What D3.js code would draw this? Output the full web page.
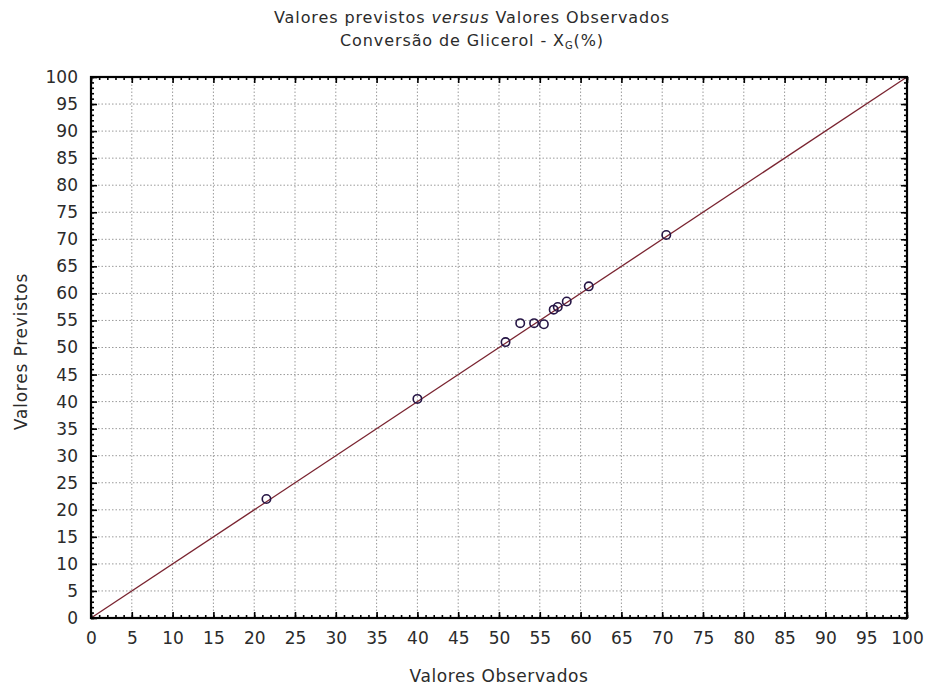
<!DOCTYPE html>
<html>
<head>
<meta charset="utf-8">
<script src="https://cdn.jsdelivr.net/npm/d3@7"></script>
<style>
  body { margin: 0; background: #fff; }
  svg { display: block; }
  text { font-family: "DejaVu Sans", Verdana, sans-serif; fill: #2b2b2b; }
</style>
</head>
<body>
<svg id="chart" width="926" height="686"></svg>
<script>
// Observed vs predicted glycerol conversion (%)
const observed  = [21.5, 40.0, 50.8, 52.6, 54.3, 55.5, 56.7, 57.2, 58.3, 61.0, 70.5];
const predicted = [22.0, 40.5, 51.0, 54.5, 54.5, 54.3, 57.0, 57.5, 58.5, 61.3, 70.8];
const majorTicks = d3.range(0, 101, 5);
const minorTicks = d3.range(0, 101, 1);
const lineEnds = [0, 100];

(function () {
const svg = d3.select("#chart");
const margin = { left: 91, right: 19, top: 77, bottom: 68 };
const W = 926, H = 686;
const x = d3.scaleLinear().domain([0, 100]).range([margin.left, W - margin.right]);
const y = d3.scaleLinear().domain([0, 100]).range([H - margin.bottom, margin.top]);
const FONT = "DejaVu Sans, Verdana, sans-serif";

// dotted grid at major ticks
const grid = svg.append("g");
grid.selectAll("line.gx").data(majorTicks.slice(1, -1)).join("line")
  .attr("x1", d => x(d)).attr("x2", d => x(d))
  .attr("y1", y(0)).attr("y2", y(100))
  .attr("stroke", "#9a9a9a").attr("stroke-width", 1).attr("stroke-dasharray", "1.5,2");
grid.selectAll("line.gy").data(majorTicks.slice(1, -1)).join("line")
  .attr("y1", d => y(d)).attr("y2", d => y(d))
  .attr("x1", x(0)).attr("x2", x(100))
  .attr("stroke", "#9a9a9a").attr("stroke-width", 1).attr("stroke-dasharray", "1.5,2");

// identity line
svg.append("line")
  .attr("x1", x(lineEnds[0])).attr("y1", y(lineEnds[0]))
  .attr("x2", x(lineEnds[1])).attr("y2", y(lineEnds[1]))
  .attr("stroke", "#7a2430").attr("stroke-width", 1.3);

// points
svg.append("g").selectAll("circle").data(observed).join("circle")
  .attr("cx", d => x(d))
  .attr("cy", (d, i) => y(predicted[i]))
  .attr("r", 4.2)
  .attr("fill", "none")
  .attr("stroke", "#261545").attr("stroke-width", 1.6);

// axes: ticks pointing inward on all four sides
function styleAxis(g) {
  g.select(".domain").remove();
  g.selectAll(".tick line").attr("stroke", "#000").attr("stroke-width", 1.6);
  g.selectAll(".tick text").attr("font-size", 17).attr("fill", "#2b2b2b")
    .attr("font-family", FONT);
}
const axBottom = svg.append("g").attr("transform", `translate(0,${y(0)})`)
  .call(d3.axisBottom(x).tickValues(majorTicks).tickSize(-6).tickPadding(14).tickFormat(d3.format("d")));
styleAxis(axBottom);
const axLeft = svg.append("g").attr("transform", `translate(${x(0)},0)`)
  .call(d3.axisLeft(y).tickValues(majorTicks).tickSize(-6).tickPadding(13).tickFormat(d3.format("d")));
styleAxis(axLeft);
const axTop = svg.append("g").attr("transform", `translate(0,${y(100)})`)
  .call(d3.axisTop(x).tickValues(majorTicks).tickSize(-6).tickFormat(""));
styleAxis(axTop);
const axRight = svg.append("g").attr("transform", `translate(${x(100)},0)`)
  .call(d3.axisRight(y).tickValues(majorTicks).tickSize(-6).tickFormat(""));
styleAxis(axRight);

// minor ticks
[[d3.axisBottom(x), `translate(0,${y(0)})`], [d3.axisTop(x), `translate(0,${y(100)})`],
 [d3.axisLeft(y), `translate(${x(0)},0)`], [d3.axisRight(y), `translate(${x(100)},0)`]]
  .forEach(([ax, tr]) => {
    const g = svg.append("g").attr("transform", tr)
      .call(ax.tickValues(minorTicks).tickSize(-3).tickFormat(""));
    g.select(".domain").remove();
    g.selectAll(".tick line").attr("stroke", "#000").attr("stroke-width", 1.6);
  });

// frame
svg.append("rect")
  .attr("x", x(0)).attr("y", y(100))
  .attr("width", x(100) - x(0)).attr("height", y(0) - y(100))
  .attr("fill", "none").attr("stroke", "#000").attr("stroke-width", 2.2);

// titles
const t1 = svg.append("text").attr("x", 472).attr("y", 23)
  .attr("text-anchor", "middle").attr("font-size", 16).attr("letter-spacing", 0.9);
t1.append("tspan").text("Valores previstos ");
t1.append("tspan").attr("font-style", "italic").text("versus");
t1.append("tspan").text(" Valores Observados");

const t2 = svg.append("text").attr("x", 472).attr("y", 46)
  .attr("text-anchor", "middle").attr("font-size", 16).attr("letter-spacing", 0.9);
t2.append("tspan").text("Conversão de Glicerol - X");
t2.append("tspan").attr("font-size", 10).attr("dy", 3).text("G");
t2.append("tspan").attr("dy", -3).text("(%)");

svg.append("text").attr("x", (x(0) + x(100)) / 2).attr("y", 682)
  .attr("text-anchor", "middle").attr("font-size", 17).attr("letter-spacing", 0.6)
  .text("Valores Observados");

svg.append("text")
  .attr("transform", `translate(27,${(y(0) + y(100)) / 2 + 4}) rotate(-90)`)
  .attr("text-anchor", "middle").attr("font-size", 17).attr("letter-spacing", 0.8)
  .text("Valores Previstos");
})();
</script>
</body>
</html>
